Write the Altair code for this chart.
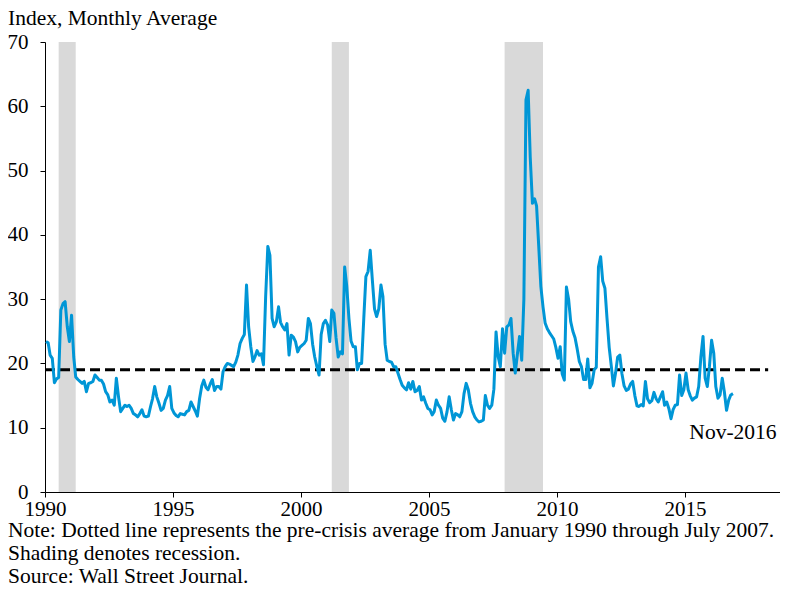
import altair as alt
import pandas as pd

# Monthly average VIX, Jan 1990 - Nov 2016
vix_1990 = [23.4, 23.2, 21.3, 20.8, 17.0, 17.6, 17.8, 28.3, 29.3, 29.6, 25.7, 23.4]
vix_1991 = [27.5, 21.0, 17.9, 17.5, 17.2, 16.9, 17.2, 15.6, 16.9, 17.0, 17.2, 18.2]
vix_1992 = [17.8, 17.4, 17.4, 16.8, 15.6, 15.1, 14.0, 14.3, 13.5, 17.7, 14.8, 12.5]
vix_1993 = [13.0, 13.5, 13.3, 13.5, 13.0, 12.2, 12.0, 11.7, 12.2, 12.8, 11.8, 11.7]
vix_1994 = [11.8, 13.3, 14.5, 16.4, 14.8, 13.8, 12.7, 13.0, 14.3, 15.0, 16.4, 13.0]
vix_1995 = [12.3, 11.9, 11.7, 12.2, 12.1, 12.0, 12.5, 12.7, 14.0, 13.3, 12.6, 11.8]
vix_1996 = [14.5, 16.5, 17.4, 16.3, 15.9, 16.8, 17.5, 15.8, 16.4, 16.4, 16.0, 18.7]
vix_1997 = [19.5, 20.0, 19.9, 19.7, 19.5, 20.2, 21.3, 23.1, 23.9, 24.5, 32.2, 25.7]
vix_1998 = [22.6, 20.3, 21.0, 22.0, 21.3, 21.5, 19.8, 30.4, 38.2, 36.8, 27.0, 25.7]
vix_1999 = [26.5, 28.8, 26.4, 25.7, 25.2, 26.2, 21.3, 24.4, 24.1, 23.4, 21.8, 22.5]
vix_2000 = [22.8, 23.1, 23.6, 27.0, 26.2, 23.0, 21.0, 19.5, 18.2, 24.5, 26.2, 26.7]
vix_2001 = [26.0, 23.4, 28.3, 27.8, 24.0, 21.0, 21.8, 21.5, 35.0, 32.0, 27.0, 23.5]
vix_2002 = [22.6, 22.6, 19.0, 20.0, 20.0, 27.0, 33.5, 34.3, 37.6, 33.0, 28.5, 27.3]
vix_2003 = [28.5, 32.2, 30.4, 23.0, 20.5, 20.3, 20.2, 19.5, 19.5, 18.5, 17.5, 16.6]
vix_2004 = [16.2, 15.9, 17.0, 16.0, 17.2, 15.6, 15.8, 16.4, 14.3, 14.8, 13.8, 13.0]
vix_2005 = [12.8, 12.0, 12.5, 14.3, 13.5, 13.0, 11.5, 11.0, 12.5, 14.8, 12.8, 11.2]
vix_2006 = [12.2, 12.0, 11.7, 12.5, 15.3, 16.9, 15.9, 13.8, 12.5, 11.7, 11.2, 10.9]
vix_2007 = [11.0, 11.2, 15.0, 13.5, 13.0, 13.5, 16.0, 24.9, 21.0, 19.5, 25.4, 21.6]
vix_2008 = [25.7, 26.0, 27.0, 21.6, 18.5, 21.5, 24.2, 20.5, 30.0, 61.0, 62.5, 52.0]
vix_2009 = [44.9, 45.6, 44.5, 38.2, 32.0, 28.8, 26.3, 25.4, 24.8, 24.3, 23.8, 22.5]
vix_2010 = [20.8, 22.6, 18.4, 17.4, 31.9, 30.0, 26.5, 25.0, 24.0, 22.3, 20.3, 19.5]
vix_2011 = [17.5, 17.5, 20.7, 16.2, 16.9, 19.0, 19.4, 35.0, 36.6, 32.8, 31.7, 27.0]
vix_2012 = [22.5, 19.5, 16.5, 18.5, 21.0, 21.3, 18.4, 16.5, 15.8, 16.0, 16.8, 17.2]
vix_2013 = [15.0, 13.4, 13.3, 13.6, 13.4, 17.2, 14.5, 13.9, 14.2, 15.5, 14.5, 14.0]
vix_2014 = [14.8, 15.6, 13.5, 14.0, 13.0, 11.4, 12.8, 13.5, 13.6, 18.2, 15.0, 15.9]
vix_2015 = [18.5, 15.9, 15.0, 14.3, 14.6, 14.8, 16.4, 21.0, 24.2, 17.7, 16.4, 19.5]
vix_2016 = [23.6, 21.6, 16.4, 14.6, 15.1, 17.7, 15.6, 12.7, 14.3, 15.1, 15.3]

vix = (vix_1990 + vix_1991 + vix_1992 + vix_1993 + vix_1994 + vix_1995 + vix_1996
       + vix_1997 + vix_1998 + vix_1999 + vix_2000 + vix_2001 + vix_2002 + vix_2003
       + vix_2004 + vix_2005 + vix_2006 + vix_2007 + vix_2008 + vix_2009 + vix_2010
       + vix_2011 + vix_2012 + vix_2013 + vix_2014 + vix_2015 + vix_2016)

# recessions (shaded)
rec_start = ["1990-07-15", "2001-03-15", "2007-12-15"]
rec_end = ["1991-03-15", "2001-11-15", "2009-06-15"]

# pre-crisis average (dashed line)
avg_value = 19.0
avg_start = "1990-01-01"
avg_end = "2018-04-01"

end_label = "Nov-2016"
end_label_value = 9.2
title_text = "Index, Monthly Average"
notes_text = ("Note: Dotted line represents the pre-crisis average from January 1990 through July 2007.\n"
              "Shading denotes recession.\n"
              "Source: Wall Street Journal.")

dates = pd.date_range("1990-01-01", periods=len(vix), freq="MS") + pd.Timedelta(days=14)
df = pd.DataFrame({"date": dates.strftime("%Y-%m-%d"), "vix": vix})
rec = pd.DataFrame({"start": rec_start, "end": rec_end, "top": [70] * 3, "bottom": [0] * 3})
avg = pd.DataFrame({"start": [avg_start], "end": [avg_end], "avg": [avg_value]})
lab = pd.DataFrame({"date": [df["date"].iloc[-1]], "y": [end_label_value], "t": [end_label]})

FONT = "Liberation Serif"

xscale = alt.Scale(domain=[alt.DateTime(year=1990, month=1, date=1),
                           alt.DateTime(year=2018, month=9, date=17)])
xaxis = alt.Axis(values=[alt.DateTime(year=y, month=1, date=1) for y in range(1990, 2016, 5)],
                 format="%Y", title=None, tickSize=5, labelPadding=1, labelFlush=False,
                 labelOverlap=False)
yscale = alt.Scale(domain=[0, 70], nice=False, zero=True)
yaxis = alt.Axis(values=list(range(0, 71, 10)), title=None, tickSize=5, labelPadding=12)


def X(field):
    return alt.X(field, type="temporal", scale=xscale, axis=xaxis)


def Y(field):
    return alt.Y(field, type="quantitative", scale=yscale, axis=yaxis)


shade = alt.Chart(rec).mark_rect(color="#D9D9D9").encode(
    x=X("start"), x2="end", y=Y("top"), y2="bottom")

rule = alt.Chart(avg).mark_rule(color="black", strokeWidth=3, strokeDash=[10, 5]).encode(
    x=X("start"), x2="end", y=Y("avg"))

line = alt.Chart(df).mark_line(color="#0096D6", strokeWidth=3, strokeJoin="round").encode(
    x=X("date"), y=Y("vix"))

endtext = alt.Chart(lab).mark_text(font=FONT, fontSize=21.5, color="black",
                                   align="center", baseline="middle").encode(
    x=X("date"), y=Y("y"), text="t:N")

title = alt.Chart(pd.DataFrame({"t": [title_text]})).mark_text(
    font=FONT, fontSize=21.5, color="black", align="left", baseline="alphabetic").encode(
    x=alt.value(-37), y=alt.value(-17), text="t:N")

notes = alt.Chart(pd.DataFrame({"t": [notes_text]})).mark_text(
    font=FONT, fontSize=21.5, color="black", align="left", baseline="alphabetic",
    lineBreak="\n", lineHeight=23).encode(
    x=alt.value(-37), y=alt.value(495), text="t:N")

chart = alt.layer(shade, rule, line, endtext, title, notes).properties(
    width=735, height=450,
    autosize=alt.AutoSizeParams(type="none"),
    padding={"left": 37, "top": 34, "right": 0, "bottom": 91},
).configure_view(stroke=None).configure_axis(
    grid=False, domainColor="black", tickColor="black", labelColor="black",
    labelFont=FONT, labelFontSize=21, domainWidth=1, tickWidth=1,
)

chart.save("out.html", embed_options={"renderer": "svg", "actions": False})
